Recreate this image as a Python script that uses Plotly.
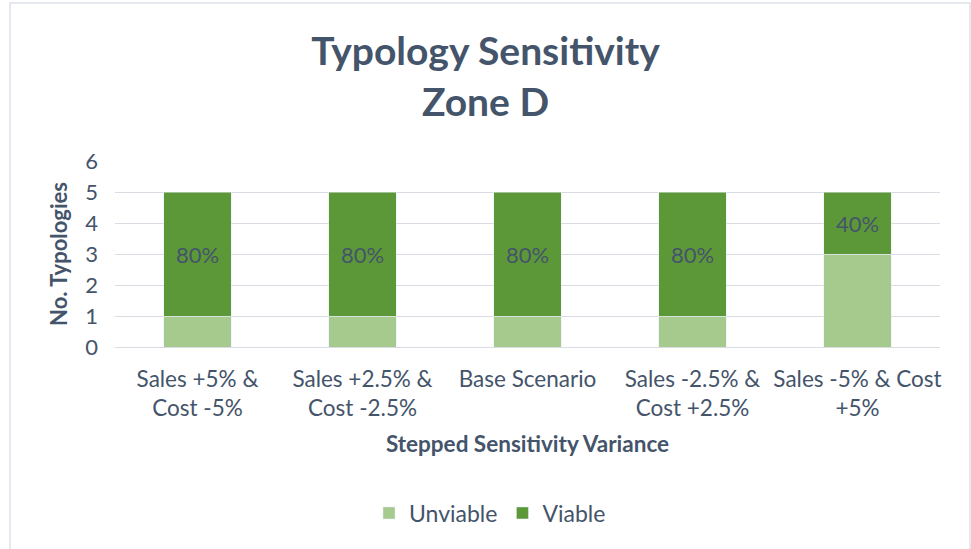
import plotly.graph_objects as go

# data
scenarios = ["Sales +5% &<br>Cost -5%", "Sales +2.5% &<br>Cost -2.5%", "Base Scenario",
             "Sales -2.5% &<br>Cost +2.5%", "Sales -5% & Cost<br>+5%"]
unviable = [1, 1, 1, 1, 3]
viable = [4, 4, 4, 4, 2]
viable_pct = ["80%", "80%", "80%", "80%", "40%"]

TXT = "#44546a"
FONT = "Lato, 'Open Sans', sans-serif"

# plot area in px (left, top, width, height)
L, T, W, H = 115, 161, 825, 186

fig = go.Figure()
fig.add_trace(go.Bar(
    x=scenarios, y=unviable, name="Unviable",
    marker=dict(color="#a6ca8e"),
))
fig.add_trace(go.Bar(
    x=scenarios, y=viable, name="Viable",
    marker=dict(color="#5d9838"),
    text=viable_pct, textposition="inside", insidetextanchor="middle",
    textfont=dict(color=TXT, size=22, family=FONT),
))

fig.update_layout(
    width=971, height=549,
    barmode="stack", bargap=0.59,
    plot_bgcolor="white", paper_bgcolor="white",
    font=dict(family=FONT, color=TXT, size=22),
    title=dict(text="<b>Typology Sensitivity<br>Zone D</b>", x=0.5, xanchor="center",
               y=1 - 65 / 549, yanchor="top",
               font=dict(size=39, color=TXT, family=FONT)),
    margin=dict(l=L, r=971 - L - W, t=T, b=549 - T - H),
    showlegend=True,
    legend=dict(orientation="h", x=(490 - L) / W, xanchor="center",
                y=-(513 - T - H) / H, yanchor="middle",
                font=dict(size=23, color=TXT), traceorder="normal"),
    shapes=[dict(type="rect", xref="paper", yref="paper",
                 x0=(10 - L) / W, x1=(970 - L) / W,
                 y0=-(570 - T - H) / H, y1=1 + (T - 3) / H,
                 line=dict(color="#dde2ea", width=1.5))],
)
fig.update_yaxes(range=[0, 6], dtick=1, gridcolor="#d9dde3", gridwidth=1,
                 zeroline=False, showline=False, ticks="", ticklabelstandoff=16,
                 tickfont=dict(size=22, color=TXT),
                 title=dict(text="<b>No. Typologies</b>", font=dict(size=22, color=TXT), standoff=11))
fig.update_xaxes(showline=True, linecolor="#d9dde3", ticks="", ticklabelstandoff=12,
                 tickfont=dict(size=22.5, color=TXT),
                 title=dict(text="<b>Stepped Sensitivity Variance</b>",
                            font=dict(size=22.5, color=TXT), standoff=15))

fig.write_html("out.html", config={"displayModeBar": False},
               post_script="document.body.style.margin='0';")
